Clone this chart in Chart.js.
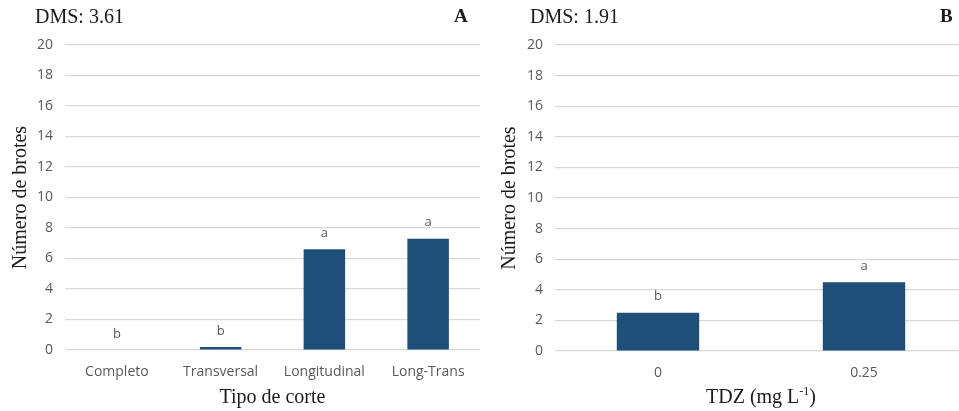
<!DOCTYPE html>
<html>
<head>
<meta charset="utf-8">
<script src="https://cdn.jsdelivr.net/npm/chart.js@4.4.1/dist/chart.umd.min.js"></script>
<style>
  html, body { margin: 0; padding: 0; background: #ffffff; overflow: hidden; }
  #wrap { position: relative; width: 959px; height: 411px; overflow: hidden; }
  canvas { position: absolute; top: 0; }
  #cA { left: 0; }
  #cB { left: 480px; }
</style>
</head>
<body>
<div id="wrap">
  <canvas id="cA" width="480" height="411"></canvas>
  <canvas id="cB" width="490" height="411"></canvas>
</div>
<script>
// Panel A: cut type
const cutTypes = ['Completo', 'Transversal', 'Longitudinal', 'Long-Trans'];
const shootsByCut = [0, 0.2, 6.6, 7.3];
const lettersByCut = ['b', 'b', 'a', 'a'];

// Panel B: TDZ dose
const tdzDoses = ['0', '0.25'];
const shootsByTdz = [2.5, 4.5];
const lettersByTdz = ['b', 'a'];

const yTicks = [0, 2, 4, 6, 8, 10, 12, 14, 16, 18, 20];

const BAR = '#1f4e79';
const GRID = '#d9d9d9';
const TICK = '#595959';
const INK = '#1a1a1a';
const SERIF = '"Liberation Serif", "Times New Roman", serif';
const SANS = '"Open Sans", sans-serif';

// Significance letters above each bar
const letterPlugin = {
  id: 'letters',
  afterDatasetsDraw(chart, args, opts) {
    const ctx = chart.ctx;
    const meta = chart.getDatasetMeta(0);
    const yScale = chart.scales.y;
    ctx.save();
    ctx.font = '13px ' + SANS;
    ctx.fillStyle = TICK;
    ctx.textAlign = 'center';
    ctx.textBaseline = 'middle';
    meta.data.forEach((bar, i) => {
      const v = chart.data.datasets[0].data[i];
      ctx.fillText(opts.letters[i], bar.x, yScale.getPixelForValue(v) - 16);
    });
    ctx.restore();
  }
};

// Header (DMS value, panel letter) and x-axis title with optional superscript
const textPlugin = {
  id: 'texts',
  afterDraw(chart, args, opts) {
    const ctx = chart.ctx;
    const area = chart.chartArea;
    ctx.save();
    ctx.fillStyle = INK;
    ctx.textBaseline = 'middle';
    ctx.textAlign = 'left';
    ctx.font = '20px ' + SERIF;
    ctx.fillText(opts.dms, opts.dmsX, 18);
    ctx.font = 'bold 19px ' + SERIF;
    ctx.fillText(opts.panel, opts.panelX, 17);

    // x-axis title
    ctx.textBaseline = 'alphabetic';
    const base = 403;
    ctx.font = '20px ' + SERIF;
    const mainW = ctx.measureText(opts.xTitle).width;
    let supW = 0, tailW = 0;
    if (opts.xSup) {
      ctx.font = '12px ' + SERIF;
      supW = ctx.measureText(opts.xSup).width;
      ctx.font = '20px ' + SERIF;
      tailW = ctx.measureText(opts.xTail).width;
    }
    const total = mainW + supW + tailW;
    let x = (area.left + area.right) / 2 - total / 2;
    ctx.fillText(opts.xTitle, x, base);
    x += mainW;
    if (opts.xSup) {
      ctx.font = '12px ' + SERIF;
      ctx.fillText(opts.xSup, x, base - 8);
      x += supW;
      ctx.font = '20px ' + SERIF;
      ctx.fillText(opts.xTail, x, base);
    }
    ctx.restore();
  }
};

function makeChart(id, labels, values, letters, cfg) {
  return new Chart(document.getElementById(id), {
    type: 'bar',
    data: {
      labels: labels,
      datasets: [{
        data: values,
        backgroundColor: BAR,
        borderWidth: 0,
        categoryPercentage: 1,
        barPercentage: 0.4
      }]
    },
    options: {
      responsive: false,
      animation: false,
      events: [],
      layout: { padding: { left: cfg.padLeft, right: cfg.padRight, top: 45, bottom: 0 } },
      plugins: {
        legend: { display: false },
        tooltip: { enabled: false },
        letters: { letters: letters },
        texts: cfg.texts
      },
      scales: {
        x: {
          grid: { display: false },
          border: { display: false },
          ticks: { color: TICK, font: { family: SANS, size: 14 }, padding: 6, maxRotation: 0 },
          afterFit(scale) { scale.height = cfg.xHeight; }
        },
        y: {
          min: 0,
          max: 20,
          afterBuildTicks(scale) { scale.ticks = yTicks.map(v => ({ value: v })); },
          grid: { color: GRID, lineWidth: 1.2, drawTicks: false },
          border: { display: false },
          ticks: { color: TICK, font: { family: SANS, size: 14 }, padding: 12 },
          title: {
            display: true,
            text: 'Número de brotes',
            color: INK,
            font: { family: SERIF, size: 20 },
            padding: { top: 1, bottom: 0 }
          },
          afterFit(scale) { scale.width = cfg.yWidth; }
        }
      }
    },
    plugins: [letterPlugin, textPlugin]
  });
}

makeChart('cA', cutTypes, shootsByCut, lettersByCut, {
  padLeft: 8, padRight: 0, yWidth: 57, xHeight: 61,
  texts: { dms: 'DMS: 3.61', dmsX: 35, panel: 'A', panelX: 454, xTitle: 'Tipo de corte' }
});

makeChart('cB', tdzDoses, shootsByTdz, lettersByTdz, {
  padLeft: 17, padRight: 3, yWidth: 58, xHeight: 60,
  texts: { dms: 'DMS: 1.91', dmsX: 50, panel: 'B', panelX: 460,
           xTitle: 'TDZ (mg L', xSup: '-1', xTail: ')' }
});
</script>
</body>
</html>
